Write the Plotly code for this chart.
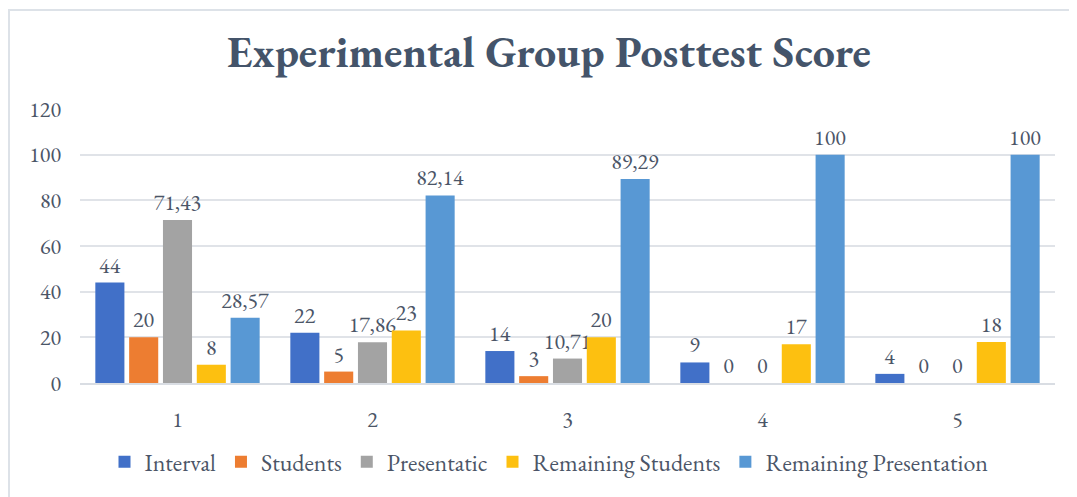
import plotly.graph_objects as go

categories = ["1", "2", "3", "4", "5"]
series_names = ["Interval", "Students", "Presentatic", "Remaining Students", "Remaining Presentation"]
interval = [44, 22, 14, 9, 4]
students = [20, 5, 3, 0, 0]
presentation = [71.43, 17.86, 10.71, 0, 0]
remaining_students = [8, 23, 20, 17, 18]
remaining_presentation = [28.57, 82.14, 89.29, 100, 100]
y_ticks = [0, 20, 40, 60, 80, 100, 120]

colors = ["#4170C8", "#ED7D31", "#A3A3A3", "#FDC010", "#5898D4"]
series = [interval, students, presentation, remaining_students, remaining_presentation]

FONT = "Garamond, 'EB Garamond', 'Liberation Serif', 'DejaVu Serif', serif"
TXT = "#4B5567"


def fmt(v):
    s = ("%g" % v)
    return s.replace(".", ",")


fig = go.Figure()
for name, vals, col in zip(series_names, series, colors):
    fig.add_trace(go.Bar(
        x=categories, y=vals, name=name,
        marker=dict(color=col, line=dict(width=0)),
        text=[fmt(v) for v in vals],
        textposition="outside",
        constraintext="none",
        cliponaxis=False,
        textfont=dict(family=FONT, size=22, color=TXT),
    ))

# the page has an 8px body margin; figure coordinates are page coordinates minus 8
W, H = 1069, 489
ml, mr, mt, mb = 72, 22, 101, 111
pw, ph = W - ml - mr, H - mt - mb

def px_x(x):
    return (x - ml) / pw

def px_y(y):
    return (H - mb - y) / ph

fig.update_layout(
    width=W, height=H,
    margin=dict(l=ml, r=mr, t=mt, b=mb),
    paper_bgcolor="white", plot_bgcolor="white",
    barmode="group", bargap=0.133, bargroupgap=0.14,
    title=dict(text="<b>Experimental Group Posttest Score</b>",
               font=dict(family=FONT, size=44, color="#44546A"),
               x=541 / W, xanchor="center", y=1 - 44 / H, yanchor="middle"),
    font=dict(family=FONT, color=TXT),
    showlegend=True,
    legend=dict(orientation="h", x=px_x(541), xanchor="center",
                y=px_y(458), yanchor="middle",
                font=dict(family=FONT, size=24, color=TXT),
                itemwidth=30, traceorder="normal"),
    xaxis=dict(type="category", showgrid=False, showline=True,
               linecolor="#D9DDE3", linewidth=2, ticks="",
               tickfont=dict(family=FONT, size=22, color=TXT),
               ticklabelstandoff=16),
    yaxis=dict(range=[0, 120], tickvals=y_ticks, showgrid=True,
               gridcolor="#E0E3E8", gridwidth=2, zeroline=False,
               showline=False, ticks="",
               tickfont=dict(family=FONT, size=22, color=TXT),
               ticklabelstandoff=18),
    shapes=[dict(type="rect", xref="paper", yref="paper",
                 x0=px_x(1), x1=px_x(W + 10), y0=px_y(H + 10), y1=px_y(1),
                 line=dict(color="#DDE2E8", width=2), fillcolor="rgba(0,0,0,0)",
                 layer="below")],
)

fig.write_html("out.html")
